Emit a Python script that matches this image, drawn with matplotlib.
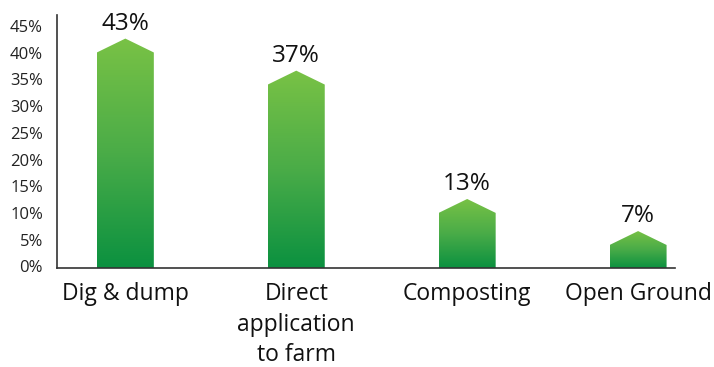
import numpy as np
import matplotlib
matplotlib.use("Agg")
import matplotlib.pyplot as plt
from matplotlib.patches import Polygon
from matplotlib.colors import LinearSegmentedColormap
import matplotlib.transforms as mtransforms

# Share of sludge disposal by method
categories = ["Dig & dump", "Direct\napplication\nto farm", "Composting", "Open Ground"]
shares = [0.43, 0.37, 0.13, 0.07]
y_ticks = [0.00, 0.05, 0.10, 0.15, 0.20, 0.25, 0.30, 0.35, 0.40, 0.45]
y_tick_labels = ["0%", "5%", "10%", "15%", "20%", "25%", "30%", "35%", "40%", "45%"]

plt.rcParams['font.family'] = ['Open Sans', 'DejaVu Sans']

fig = plt.figure(figsize=(7.14, 3.67), dpi=100)
ax = fig.add_axes([0.0798, 0.2684, 0.8656, 0.6906])

green_ramp = LinearSegmentedColormap.from_list("green_ramp", ["#0b9140", "#4aac48", "#79c245"])
gradient = np.linspace(0, 1, 256).reshape(-1, 1)

half_width = 1 / 6
tip_height = 0.026

for i, v in enumerate(shares):
    x0, x1 = i - half_width, i + half_width
    shoulder = v - tip_height
    outline = Polygon([(x0, 0), (x1, 0), (x1, shoulder), (i, v), (x0, shoulder)],
                      closed=True, facecolor="none", edgecolor="none")
    ax.add_patch(outline)
    im = ax.imshow(gradient, cmap=green_ramp, origin="lower", extent=[x0, x1, 0, v],
                   aspect="auto", interpolation="bilinear", zorder=2)
    im.set_clip_path(outline)
    ax.annotate(f"{round(v * 100)}%", xy=(i, v), xytext=(0, 15), textcoords="offset pixels",
                ha="center", va="center", fontsize=17.5, color="#111111")

ax.set_xlim(-0.40, 3.216)
ax.set_ylim(0, 0.474)

ax.set_yticks(y_ticks)
ax.set_yticklabels(y_tick_labels, fontsize=12, color="#222222")
ax.tick_params(axis="y", length=0, pad=10)
shift = mtransforms.ScaledTranslation(0, 2 / 100, fig.dpi_scale_trans)
for lbl in ax.get_yticklabels():
    lbl.set_transform(lbl.get_transform() + shift)

ax.set_xticks(range(len(categories)))
ax.set_xticklabels(categories, fontsize=16.5, color="#111111", linespacing=1.38)
ax.tick_params(axis="x", length=0, pad=9.5)

for side in ("top", "right"):
    ax.spines[side].set_visible(False)
for side in ("left", "bottom"):
    ax.spines[side].set_color("#333333")
    ax.spines[side].set_linewidth(1.2)
    ax.spines[side].set_zorder(3)

fig.savefig("out.png", dpi=100)
